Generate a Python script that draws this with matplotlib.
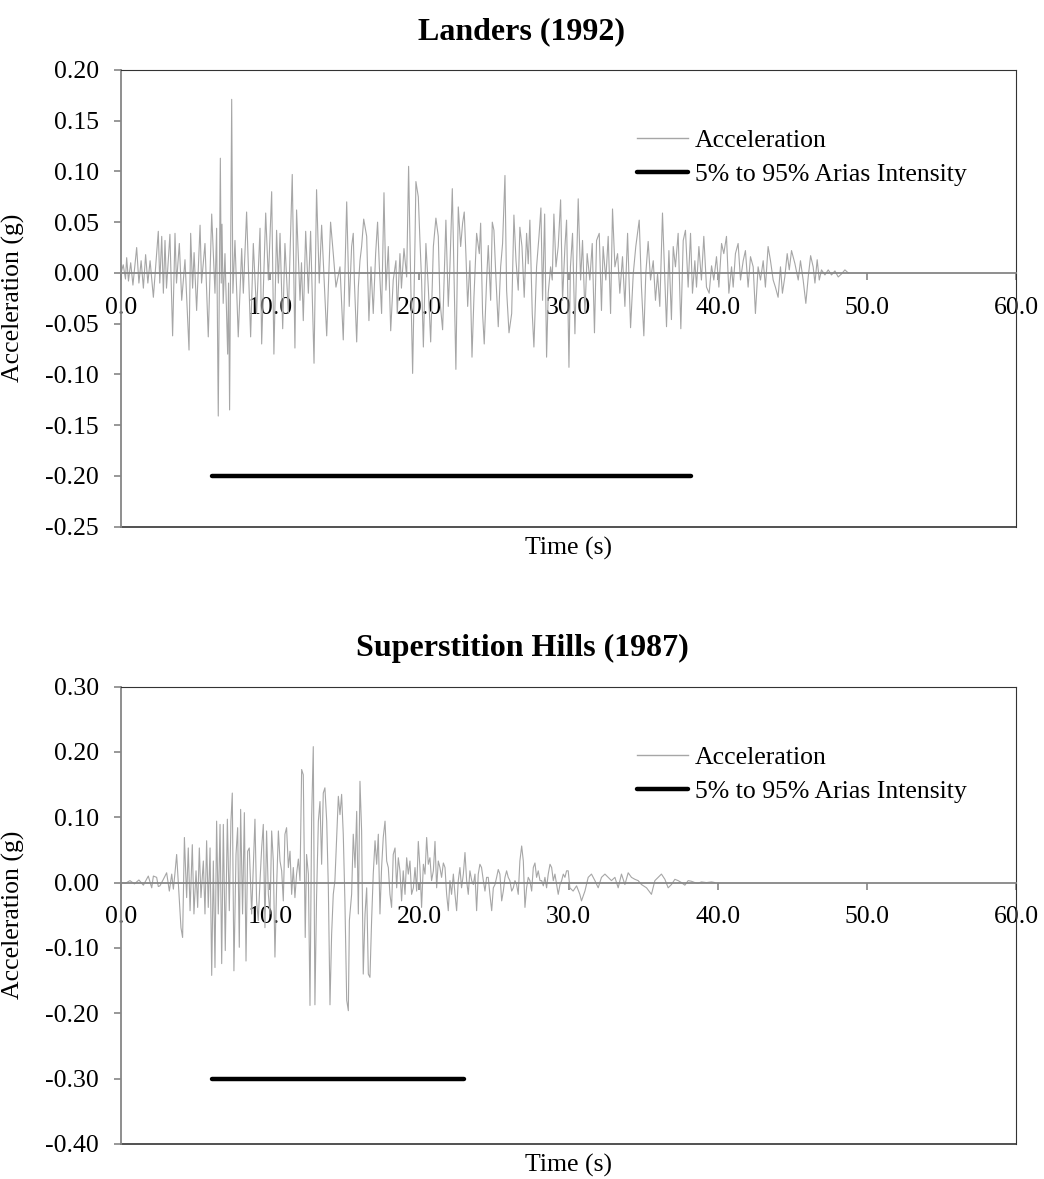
import numpy as np
import matplotlib
matplotlib.use("Agg")
import matplotlib.pyplot as plt
from matplotlib.lines import Line2D

plt.rcParams["font.family"] = ["Liberation Serif", "DejaVu Serif"]

# ========================
# DATA (time in s, acceleration in g)
# ========================
landers = [
    (0.00, 0.000), (0.15, 0.008), (0.30, -0.006), (0.38, 0.015), (0.50, -0.008), (0.65, 0.010),
    (0.80, -0.012), (1.05, 0.025), (1.20, -0.010), (1.35, 0.012), (1.50, -0.015), (1.65, 0.018),
    (1.80, -0.010), (1.95, 0.012), (2.17, -0.024), (2.50, 0.041), (2.60, -0.010), (2.73, 0.036),
    (2.84, -0.020), (2.95, 0.032), (3.05, -0.015), (3.28, 0.038), (3.46, -0.062), (3.62, 0.039),
    (3.72, -0.010), (3.91, 0.029), (4.07, -0.027), (4.29, 0.013), (4.56, -0.076), (4.67, 0.039),
    (4.80, -0.015), (4.90, 0.020), (5.07, -0.037), (5.30, 0.047), (5.40, -0.010), (5.63, 0.029),
    (5.85, -0.063), (6.08, 0.058), (6.30, -0.020), (6.41, 0.044), (6.52, -0.141), (6.66, 0.113),
    (6.72, -0.010), (6.77, 0.048), (6.85, -0.030), (6.97, 0.019), (7.15, -0.080), (7.21, -0.010),
    (7.28, -0.135), (7.42, 0.171), (7.50, -0.020), (7.64, 0.032), (7.86, -0.063), (8.09, 0.024),
    (8.20, -0.020), (8.42, 0.060), (8.69, -0.063), (8.87, 0.029), (9.09, -0.040), (9.32, 0.044),
    (9.43, -0.070), (9.70, 0.059), (9.88, -0.007), (10.10, 0.080), (10.25, -0.080), (10.43, 0.042),
    (10.55, -0.010), (10.66, 0.039), (10.84, -0.055), (10.99, 0.029), (11.22, -0.040), (11.48, 0.097),
    (11.66, -0.074), (11.77, 0.062), (12.00, -0.027), (12.10, 0.010), (12.22, -0.047), (12.38, 0.041),
    (12.56, -0.020), (12.71, 0.041), (12.94, -0.089), (13.11, 0.082), (13.29, -0.010), (13.45, 0.047),
    (13.79, -0.062), (14.05, 0.050), (14.23, 0.019), (14.41, -0.014), (14.68, 0.006), (14.90, -0.066),
    (15.13, 0.070), (15.30, -0.033), (15.46, 0.026), (15.57, 0.039), (15.65, -0.010), (15.80, -0.068),
    (15.91, -0.014), (16.02, 0.012), (16.13, 0.026), (16.27, 0.053), (16.47, 0.036), (16.62, -0.047),
    (16.76, 0.006), (16.91, -0.040), (17.07, 0.019), (17.20, 0.050), (17.32, 0.006), (17.47, -0.040),
    (17.63, 0.079), (17.76, -0.017), (17.92, 0.026), (18.08, -0.057), (18.25, -0.007), (18.43, 0.012),
    (18.52, -0.040), (18.70, 0.019), (18.80, -0.015), (18.97, 0.024), (19.15, -0.004), (19.28, 0.105),
    (19.42, -0.007), (19.55, -0.099), (19.71, 0.032), (19.77, 0.090), (19.93, 0.075), (20.04, 0.032),
    (20.15, -0.007), (20.27, -0.073), (20.44, 0.029), (20.60, -0.014), (20.76, -0.068), (20.94, 0.026),
    (21.11, 0.054), (21.27, 0.036), (21.38, -0.027), (21.56, -0.056), (21.78, 0.052), (21.94, -0.033),
    (22.05, 0.006), (22.21, 0.083), (22.34, -0.014), (22.45, -0.095), (22.61, 0.065), (22.77, 0.026),
    (22.90, 0.049), (23.01, 0.060), (23.12, 0.019), (23.24, -0.033), (23.39, 0.012), (23.53, -0.083),
    (23.66, -0.024), (23.84, 0.039), (24.02, 0.019), (24.11, 0.049), (24.24, -0.040), (24.35, -0.070),
    (24.51, -0.007), (24.62, 0.027), (24.78, -0.027), (24.89, 0.050), (25.00, 0.042), (25.14, -0.007),
    (25.29, -0.053), (25.45, 0.006), (25.58, 0.029), (25.74, 0.096), (25.85, -0.017), (26.01, -0.059),
    (26.19, -0.040), (26.34, 0.057), (26.48, 0.012), (26.63, -0.017), (26.74, 0.045), (26.88, 0.026),
    (27.03, -0.024), (27.19, 0.039), (27.30, 0.009), (27.41, 0.052), (27.57, -0.040), (27.68, -0.073),
    (27.86, 0.006), (28.02, 0.036), (28.15, 0.064), (28.26, -0.027), (28.40, 0.058), (28.53, -0.083),
    (28.64, -0.020), (28.80, 0.006), (28.91, -0.007), (29.02, 0.058), (29.16, 0.006), (29.31, 0.026),
    (29.47, 0.072), (29.60, -0.027), (29.76, 0.026), (29.87, 0.052), (30.03, -0.093), (30.13, 0.006),
    (30.27, 0.039), (30.43, -0.060), (30.65, 0.073), (30.81, -0.007), (30.94, 0.032), (31.10, -0.040),
    (31.25, 0.019), (31.43, -0.007), (31.59, 0.029), (31.74, -0.059), (31.88, 0.032), (32.06, 0.039),
    (32.21, -0.037), (32.32, 0.026), (32.50, -0.007), (32.66, 0.036), (32.82, -0.040), (32.95, 0.063),
    (33.11, 0.006), (33.29, 0.019), (33.44, -0.020), (33.62, 0.016), (33.78, -0.033), (33.96, 0.039),
    (34.16, -0.054), (34.34, -0.001), (34.51, 0.026), (34.74, 0.052), (34.89, -0.014), (35.05, -0.062),
    (35.18, -0.001), (35.34, 0.031), (35.50, -0.007), (35.68, 0.012), (35.83, -0.027), (35.97, -0.001),
    (36.12, -0.033), (36.30, 0.059), (36.46, -0.007), (36.57, -0.053), (36.73, 0.022), (36.90, -0.046),
    (37.02, 0.026), (37.17, 0.006), (37.35, 0.039), (37.53, -0.055), (37.69, 0.032), (37.84, 0.042),
    (38.02, -0.014), (38.18, 0.039), (38.31, -0.020), (38.47, 0.012), (38.58, -0.014), (38.74, 0.026),
    (38.91, -0.007), (39.07, 0.036), (39.25, -0.014), (39.43, -0.020), (39.59, 0.007), (39.74, -0.007),
    (39.92, 0.016), (40.08, -0.014), (40.26, 0.029), (40.41, 0.019), (40.59, 0.036), (40.75, -0.020),
    (40.93, 0.006), (41.04, -0.014), (41.19, 0.019), (41.37, 0.029), (41.53, -0.007), (41.71, 0.012),
    (41.86, 0.022), (42.04, -0.014), (42.20, 0.016), (42.38, 0.006), (42.53, -0.040), (42.71, 0.006),
    (42.87, -0.007), (43.05, 0.012), (43.20, -0.014), (43.38, 0.026), (43.54, 0.012), (43.72, -0.007),
    (43.87, -0.014), (44.05, -0.024), (44.21, 0.006), (44.34, -0.020), (44.50, -0.004), (44.66, 0.019),
    (44.80, 0.003), (44.95, 0.022), (45.18, 0.009), (45.40, -0.007), (45.55, 0.012), (45.73, -0.007),
    (45.91, -0.030), (46.07, -0.004), (46.23, 0.017), (46.40, 0.006), (46.52, -0.010), (46.67, 0.013),
    (46.81, -0.007), (46.96, 0.003), (47.19, -0.002), (47.41, 0.003), (47.63, -0.002), (47.86, 0.002),
    (48.08, -0.004), (48.30, -0.001), (48.53, 0.003), (48.75, 0.000),
]

hills = [
    (0.00, 0.000), (0.30, -0.001), (0.60, 0.003), (0.90, -0.002), (1.20, 0.004), (1.50, -0.004),
    (1.83, 0.010), (2.06, -0.008), (2.17, 0.010), (2.39, 0.008), (2.50, -0.006), (2.61, -0.005),
    (2.84, 0.005), (3.06, 0.015), (3.24, -0.013), (3.40, 0.013), (3.51, -0.010), (3.62, 0.015),
    (3.73, 0.043), (3.89, -0.018), (4.02, -0.069), (4.13, -0.084), (4.25, 0.069), (4.40, -0.023),
    (4.51, 0.053), (4.63, -0.043), (4.78, 0.058), (4.89, -0.048), (5.03, 0.018), (5.14, -0.038),
    (5.25, 0.053), (5.36, -0.023), (5.52, 0.033), (5.63, -0.048), (5.74, 0.064), (5.85, -0.038),
    (5.97, 0.053), (6.08, -0.142), (6.19, 0.033), (6.30, -0.130), (6.41, 0.094), (6.52, -0.048),
    (6.64, 0.089), (6.75, -0.124), (6.86, 0.089), (6.99, -0.104), (7.13, 0.097), (7.26, -0.043),
    (7.37, 0.094), (7.46, 0.137), (7.57, -0.135), (7.71, 0.043), (7.82, 0.084), (7.93, -0.099),
    (8.02, 0.112), (8.15, -0.048), (8.27, 0.107), (8.38, -0.120), (8.49, 0.048), (8.60, 0.053),
    (8.76, -0.048), (8.87, 0.023), (8.98, 0.097), (9.09, -0.028), (9.20, -0.058), (9.32, 0.003),
    (9.43, 0.053), (9.54, 0.089), (9.65, -0.069), (9.76, 0.079), (9.88, -0.018), (9.99, -0.048),
    (10.10, 0.079), (10.21, 0.033), (10.32, -0.114), (10.43, -0.008), (10.55, 0.079), (10.66, 0.033),
    (10.77, 0.018), (10.88, -0.028), (10.99, 0.074), (11.10, 0.084), (11.22, 0.023), (11.33, 0.048),
    (11.44, -0.018), (11.55, 0.023), (11.66, -0.023), (11.77, 0.013), (11.89, 0.036), (12.00, 0.003),
    (12.11, 0.173), (12.22, 0.165), (12.35, -0.084), (12.44, 0.043), (12.56, 0.013), (12.67, -0.188),
    (12.78, 0.099), (12.89, 0.208), (13.00, -0.187), (13.11, -0.023), (13.23, 0.094), (13.34, 0.124),
    (13.45, 0.028), (13.56, 0.137), (13.67, 0.145), (13.79, 0.094), (13.90, -0.008), (14.01, -0.187),
    (14.12, -0.079), (14.23, -0.018), (14.34, 0.003), (14.46, 0.069), (14.57, 0.132), (14.68, 0.104),
    (14.79, 0.135), (14.90, 0.074), (15.01, -0.028), (15.13, -0.180), (15.24, -0.196), (15.31, -0.058),
    (15.46, -0.018), (15.57, 0.074), (15.69, 0.023), (15.80, 0.109), (15.91, -0.048), (16.02, 0.155),
    (16.13, 0.079), (16.24, -0.140), (16.36, -0.048), (16.47, -0.008), (16.58, -0.140), (16.69, -0.145),
    (16.80, -0.058), (16.91, 0.013), (17.03, 0.064), (17.14, 0.028), (17.25, 0.074), (17.36, -0.048),
    (17.47, 0.023), (17.58, 0.069), (17.70, 0.094), (17.81, 0.033), (17.92, 0.023), (18.03, -0.018),
    (18.14, -0.038), (18.25, 0.043), (18.37, 0.053), (18.48, -0.008), (18.59, 0.038), (18.70, 0.018),
    (18.81, -0.028), (18.92, 0.018), (19.04, -0.018), (19.15, 0.038), (19.26, 0.013), (19.37, 0.033),
    (19.48, -0.018), (19.60, -0.008), (19.71, 0.023), (19.82, -0.013), (19.93, 0.063), (20.04, 0.023),
    (20.15, -0.038), (20.27, 0.028), (20.38, 0.013), (20.49, 0.069), (20.60, 0.028), (20.71, 0.038),
    (20.82, 0.003), (20.94, 0.018), (21.05, 0.063), (21.16, -0.008), (21.27, 0.033), (21.38, 0.023),
    (21.49, 0.008), (21.61, 0.030), (21.72, 0.023), (21.83, -0.018), (21.94, -0.043), (22.05, 0.003),
    (22.16, -0.018), (22.28, 0.013), (22.39, -0.018), (22.50, -0.043), (22.61, 0.003), (22.72, 0.023),
    (22.83, -0.008), (22.95, 0.013), (23.06, 0.046), (23.17, 0.003), (23.28, -0.018), (23.39, 0.018),
    (23.51, 0.003), (23.62, -0.003), (23.73, 0.013), (23.84, -0.043), (23.95, 0.013), (24.06, 0.028),
    (24.17, 0.023), (24.29, 0.003), (24.40, -0.013), (24.51, 0.008), (24.62, 0.008), (24.73, -0.018),
    (24.85, -0.043), (24.96, -0.008), (25.07, -0.003), (25.18, 0.008), (25.29, 0.020), (25.40, 0.013),
    (25.52, -0.028), (25.63, -0.013), (25.74, 0.008), (25.85, 0.018), (25.96, 0.008), (26.07, 0.003),
    (26.19, -0.013), (26.30, -0.008), (26.41, 0.003), (26.52, -0.003), (26.63, -0.018), (26.74, 0.033),
    (26.86, 0.056), (26.97, 0.033), (27.08, -0.038), (27.19, -0.008), (27.30, 0.008), (27.41, 0.003),
    (27.53, -0.013), (27.64, 0.023), (27.75, 0.030), (27.86, 0.008), (27.97, 0.018), (28.09, 0.003),
    (28.20, 0.003), (28.31, -0.005), (28.42, 0.008), (28.53, -0.008), (28.64, 0.013), (28.76, 0.028),
    (28.87, 0.023), (28.98, 0.003), (29.09, 0.013), (29.20, -0.003), (29.31, -0.018), (29.43, -0.003),
    (29.54, 0.003), (29.65, 0.013), (29.76, 0.008), (29.87, 0.018), (29.98, 0.018), (30.09, -0.008),
    (30.31, -0.013), (30.54, -0.005), (30.76, -0.018), (30.87, -0.028), (31.10, -0.013), (31.32, 0.008),
    (31.54, 0.013), (31.77, 0.003), (31.99, -0.008), (32.21, 0.008), (32.44, 0.013), (32.66, 0.008),
    (32.88, 0.003), (33.11, 0.008), (33.33, -0.008), (33.55, 0.013), (33.78, -0.003), (34.00, 0.015),
    (34.22, 0.008), (34.45, 0.005), (34.67, 0.003), (34.89, -0.003), (35.23, -0.008), (35.56, -0.018),
    (35.79, 0.003), (36.01, 0.008), (36.23, 0.013), (36.46, 0.005), (36.68, -0.008), (36.90, -0.003),
    (37.13, 0.005), (37.35, 0.003), (37.57, 0.000), (37.80, -0.004), (38.02, 0.003), (38.24, 0.002),
    (38.47, 0.000), (38.69, -0.001), (38.91, 0.001), (39.25, 0.000), (39.59, 0.001), (39.81, 0.000),
]

titles = ["Landers (1992)", "Superstition Hills (1987)"]
# 5% - 95% Arias intensity window (start, end, plotted level)
arias = [(6.1, 38.2, -0.20), (6.1, 23.0, -0.30)]
yticks = [np.arange(-0.25, 0.2001, 0.05), np.arange(-0.40, 0.3001, 0.10)]
xticks = np.arange(0, 61, 10)

GRAY = "#a6a6a6"
AXGRAY = "#868686"
FS = 18.5

# ========================
# FIGURE
# ========================
fig = plt.figure(figsize=(10.44, 11.79), dpi=100)
ax1 = fig.add_axes([0.1159, 0.5533, 0.8573, 0.3874])
ax2 = fig.add_axes([0.1159, 0.0297, 0.8573, 0.3880])

for ax, data, title, (a0, a1, lev), yt in zip([ax1, ax2], [landers, hills], titles, arias, yticks):
    t, acc = np.array(data).T
    ax.plot(t, acc, color=GRAY, lw=0.8, zorder=2)
    ax.plot([a0, a1], [lev, lev], color="black", lw=3.2, solid_capstyle="round", zorder=3)

    # x axis sits on the zero line, frame drawn around
    ax.spines["bottom"].set_position(("data", 0))
    ax.spines["bottom"].set_color(AXGRAY)
    ax.spines["bottom"].set_linewidth(1.3)
    ax.spines["left"].set_color(AXGRAY)
    ax.spines["left"].set_linewidth(1.3)
    ax.spines["top"].set_color("#333333")
    ax.spines["right"].set_color("#333333")
    ax.plot([0, 1], [0, 0], transform=ax.transAxes, color="#333333", lw=1.2, clip_on=False)

    ax.set_xlim(0, 60)
    ax.set_ylim(yt[0], yt[-1])
    ax.set_yticks(yt)
    ax.set_yticklabels([f"{v:.2f}" if abs(v) > 1e-9 else "0.00" for v in yt])
    ax.set_xticks(xticks)
    ax.set_xticklabels([f"{v:.1f}" for v in xticks])

    ax.tick_params(axis="x", direction="out", length=5, width=1.2, color=AXGRAY, pad=12, labelsize=FS)
    ax.tick_params(axis="y", direction="out", length=5, width=1.2, color=AXGRAY, pad=11, labelsize=FS)

    ax.set_title(title, fontsize=23, fontweight="bold", pad=22, x=0.448)
    ax.set_ylabel("Acceleration (g)", fontsize=FS)
    ax.yaxis.set_label_coords(-0.107, 0.5)
    ax.text(0.5, -0.048, "Time (s)", transform=ax.transAxes, ha="center", va="center", fontsize=FS)

    handles = [Line2D([], [], color=GRAY, lw=1.0),
               Line2D([], [], color="black", lw=3.2, solid_capstyle="round")]
    ax.legend(handles, ["Acceleration", "5% to 95% Arias Intensity"], loc="center left",
              bbox_to_anchor=(0.5765, 0.808), frameon=False, fontsize=FS, handlelength=2.0,
              handletextpad=0.25, borderpad=0, borderaxespad=0, labelspacing=0.45)

fig.savefig("out.png", dpi=100)
